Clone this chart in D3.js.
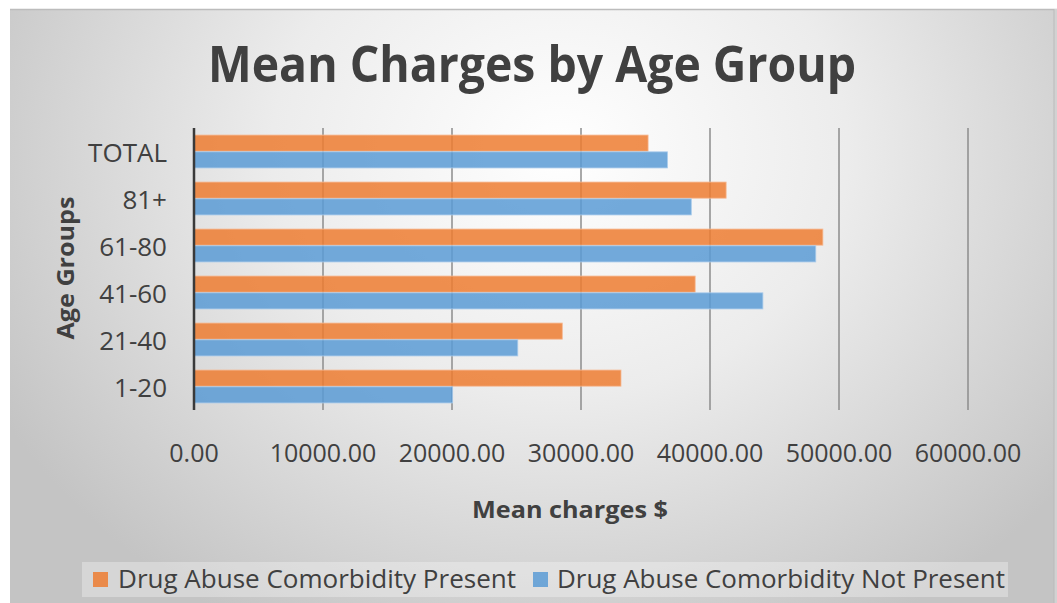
<!DOCTYPE html>
<html>
<head>
<meta charset="utf-8">
<script src="https://cdn.jsdelivr.net/npm/d3@7"></script>
<style>
  html, body { margin: 0; padding: 0; background: #ffffff; }
  svg { display: block; }
  text { font-family: "Open Sans", "Noto Sans", sans-serif; fill: #404040; }
</style>
</head>
<body>
<svg id="chart" width="1057" height="603"></svg>
<script>
// Age groups, listed top to bottom
const categories = ["TOTAL", "81+", "61-80", "41-60", "21-40", "1-20"];
const seriesNames = ["Drug Abuse Comorbidity Present", "Drug Abuse Comorbidity Not Present"];
// Mean charges ($) per age group
const presentValues    = [35200, 41250, 48750, 38850, 28550, 33100];
const notPresentValues = [36700, 38550, 48200, 44100, 25100, 20050];
const xTicks = [0, 10000, 20000, 30000, 40000, 50000, 60000];
const colors = ["#ED7D31", "#5B9BD5"];

const svg = d3.select("#chart");
const W = 1057, H = 603;

// Chart background: soft radial shading
const defs = svg.append("defs");
const grad = defs.append("radialGradient")
  .attr("id", "bg").attr("gradientUnits", "userSpaceOnUse")
  .attr("cx", 560).attr("cy", 150).attr("r", 640)
  .attr("gradientTransform", "translate(560,150) scale(1,0.85) translate(-560,-150)");
grad.append("stop").attr("offset", "0").attr("stop-color", "#ffffff");
grad.append("stop").attr("offset", "0.45").attr("stop-color", "#ececec");
grad.append("stop").attr("offset", "1").attr("stop-color", "#c4c4c4");

svg.append("rect").attr("x", 10).attr("y", 9).attr("width", W - 10).attr("height", H - 9)
  .attr("fill", "url(#bg)");
svg.append("line").attr("x1", 10).attr("x2", W).attr("y1", 9.5).attr("y2", 9.5)
  .attr("stroke", "#bcbcbc").attr("stroke-width", 1.5);
// Right rim of the chart panel
svg.append("rect").attr("x", 1054).attr("y", 9).attr("width", 3).attr("height", H - 9)
  .attr("fill", "#d2d2d2");
svg.append("line").attr("x1", 1054).attr("x2", 1054).attr("y1", 9).attr("y2", H)
  .attr("stroke", "#bababa").attr("stroke-width", 1);

// Scales
const x = d3.scaleLinear().domain([0, 60000]).range([194, 968]);
const y = d3.scaleBand().domain(categories).range([128, 410])
  .paddingInner(0.3).paddingOuter(0.15);
const ySub = d3.scaleBand().domain([0, 1]).range([0, y.bandwidth()]).paddingInner(0.04);

// Vertical gridlines
svg.append("g").selectAll("line").data(xTicks.slice(1)).join("line")
  .attr("x1", d => x(d)).attr("x2", d => x(d))
  .attr("y1", 128).attr("y2", 410)
  .attr("stroke", "#8c8c8c").attr("stroke-width", 1.5);

// Bars
const rows = categories.map((c, i) => ({ cat: c, vals: [presentValues[i], notPresentValues[i]] }));
const g = svg.append("g");
rows.forEach(r => {
  r.vals.forEach((v, s) => {
    g.append("rect")
      .attr("x", x(0))
      .attr("y", y(r.cat) + ySub(s))
      .attr("width", x(v) - x(0))
      .attr("height", ySub.bandwidth())
      .attr("fill", colors[s]).attr("fill-opacity", 0.85)
      .attr("stroke", s === 0 ? "#f6b892" : "#a9cbeb").attr("stroke-width", 0.8);
  });
});

// Category axis line
svg.append("line").attr("x1", x(0)).attr("x2", x(0)).attr("y1", 128).attr("y2", 410)
  .attr("stroke", "#3a3a3a").attr("stroke-width", 2.5);

// Category labels
svg.append("g").selectAll("text").data(categories).join("text")
  .attr("x", 167).attr("y", d => y(d) + y.bandwidth() / 2)
  .attr("text-anchor", "end").attr("dominant-baseline", "central")
  .attr("font-size", 26).text(d => d);

// Value tick labels
svg.append("g").selectAll("text").data(xTicks).join("text")
  .attr("x", d => x(d)).attr("y", 452)
  .attr("text-anchor", "middle").attr("dominant-baseline", "central")
  .attr("font-size", 25).text(d => d3.format(".2f")(d));

// Title
svg.append("text").attr("x", 532).attr("y", 82).attr("text-anchor", "middle")
  .attr("font-size", 51).attr("font-weight", 700)
  .attr("textLength", 648).attr("lengthAdjust", "spacingAndGlyphs")
  .text("Mean Charges by Age Group");

// Axis titles
svg.append("text").attr("x", 570).attr("y", 509).attr("text-anchor", "middle")
  .attr("dominant-baseline", "central")
  .attr("font-size", 23).attr("font-weight", 700)
  .attr("textLength", 196).attr("lengthAdjust", "spacingAndGlyphs")
  .text("Mean charges $");
svg.append("text").attr("transform", "translate(64,268) rotate(-90)")
  .attr("text-anchor", "middle").attr("dominant-baseline", "central")
  .attr("font-size", 24).attr("font-weight", 700)
  .attr("textLength", 143).attr("lengthAdjust", "spacingAndGlyphs")
  .text("Age Groups");

// Legend
const legend = svg.append("g");
legend.append("rect").attr("x", 82).attr("y", 562).attr("width", 926).attr("height", 35)
  .attr("fill", "#ffffff").attr("fill-opacity", 0.3);
const legendItems = [
  { name: seriesNames[0], color: colors[0], sx: 93, tx: 118, tw: 398 },
  { name: seriesNames[1], color: colors[1], sx: 533, tx: 557, tw: 448 }
];
legendItems.forEach(it => {
  legend.append("rect").attr("x", it.sx).attr("y", 572).attr("width", 15).attr("height", 15)
    .attr("fill", it.color).attr("fill-opacity", 0.85);
  legend.append("text").attr("x", it.tx).attr("y", 588)
    .attr("font-size", 25)
    .attr("textLength", it.tw).attr("lengthAdjust", "spacingAndGlyphs")
    .text(it.name);
});
</script>
</body>
</html>
